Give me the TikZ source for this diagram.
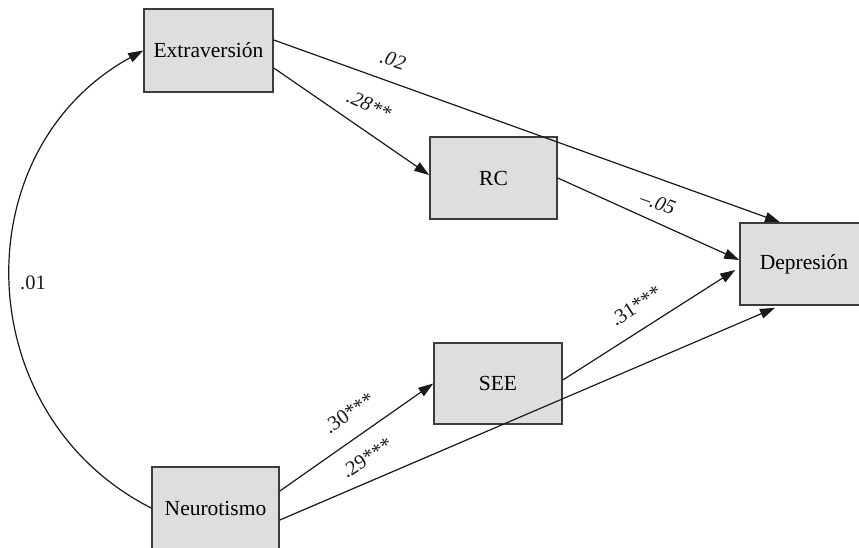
\documentclass[tikz,border=0pt]{standalone}
\usepackage{fontspec}
\setmainfont{Liberation Serif}
\usetikzlibrary{arrows.meta}
\definecolor{boxfill}{RGB}{221,222,224}
\definecolor{boxline}{RGB}{60,60,60}
\definecolor{ink}{RGB}{25,25,25}
\tikzset{
  varbox/.style={draw=boxline, fill=boxfill, line width=1.6pt, inner sep=0pt,
    minimum width=#1, font=\fontsize{21.5}{24}\selectfont},
  varbox/.default=128pt,
  path/.style={draw=ink, line width=1.2pt, -{Triangle[length=15pt,width=10pt]}},
  coef/.style={font=\fontsize{20.5}{23}\selectfont\itshape, inner sep=0pt, text=ink},
  coefup/.style={font=\fontsize{20.5}{23}\selectfont, inner sep=0pt, text=ink}
}
\begin{document}
\begin{tikzpicture}[x=1pt,y=-1pt]
\useasboundingbox (0,0) rectangle (859,547);
\clip (0,0) rectangle (859,547);
\fill[white] (0,0) rectangle (859,547);
% variables
\node[varbox=129pt, minimum height=83pt] (ext) at (208.5,50.5) {Extraversión};
\node[varbox=127pt, minimum height=82pt] (rc) at (493.5,178) {RC};
\node[varbox=128pt, minimum height=81pt] (see) at (498,383.5) {SEE};
\node[varbox=128pt, minimum height=82pt] (dep) at (804,264) {Depresión};
\node[varbox=127pt, minimum height=82pt] (neu) at (215.5,508) {Neurotismo};
% paths
\draw[path] ([yshift=10.5pt]ext.east) -- ([xshift=-24pt]dep.north);
\draw[path] ([yshift=-17.5pt]ext.east) -- ([yshift=3pt]rc.west);
\draw[path] (rc.east) -- ([yshift=4pt]dep.west);
\draw[path] ([yshift=3.5pt]see.east) -- ([xshift=-4pt,yshift=-6pt]dep.west);
\draw[path] ([yshift=17pt]neu.east) -- (see.west);
\draw[path] ([yshift=-12pt]neu.east) -- ([xshift=-29pt,yshift=-2pt]dep.south);
\draw[path] (neu.west) .. controls (-32,415) and (-38,150) .. (ext.west);
% coefficients
\node[coef, rotate=-18] (c02) at (393,60) {.02};
\node[coef, rotate=-25] (c28) at (369,105) {.28**};
\node[coef, rotate=-20] (c05) at (658,203) {–.05};
\node[coefup, rotate=33] (c31) at (636,306) {.31***};
\node[coefup, rotate=35] (c30) at (349,413) {.30***};
\node[coefup, rotate=33] (c29) at (367,458) {.29***};
\node[coefup] (c01) at (33,283) {.01};
\end{tikzpicture}
\end{document}
